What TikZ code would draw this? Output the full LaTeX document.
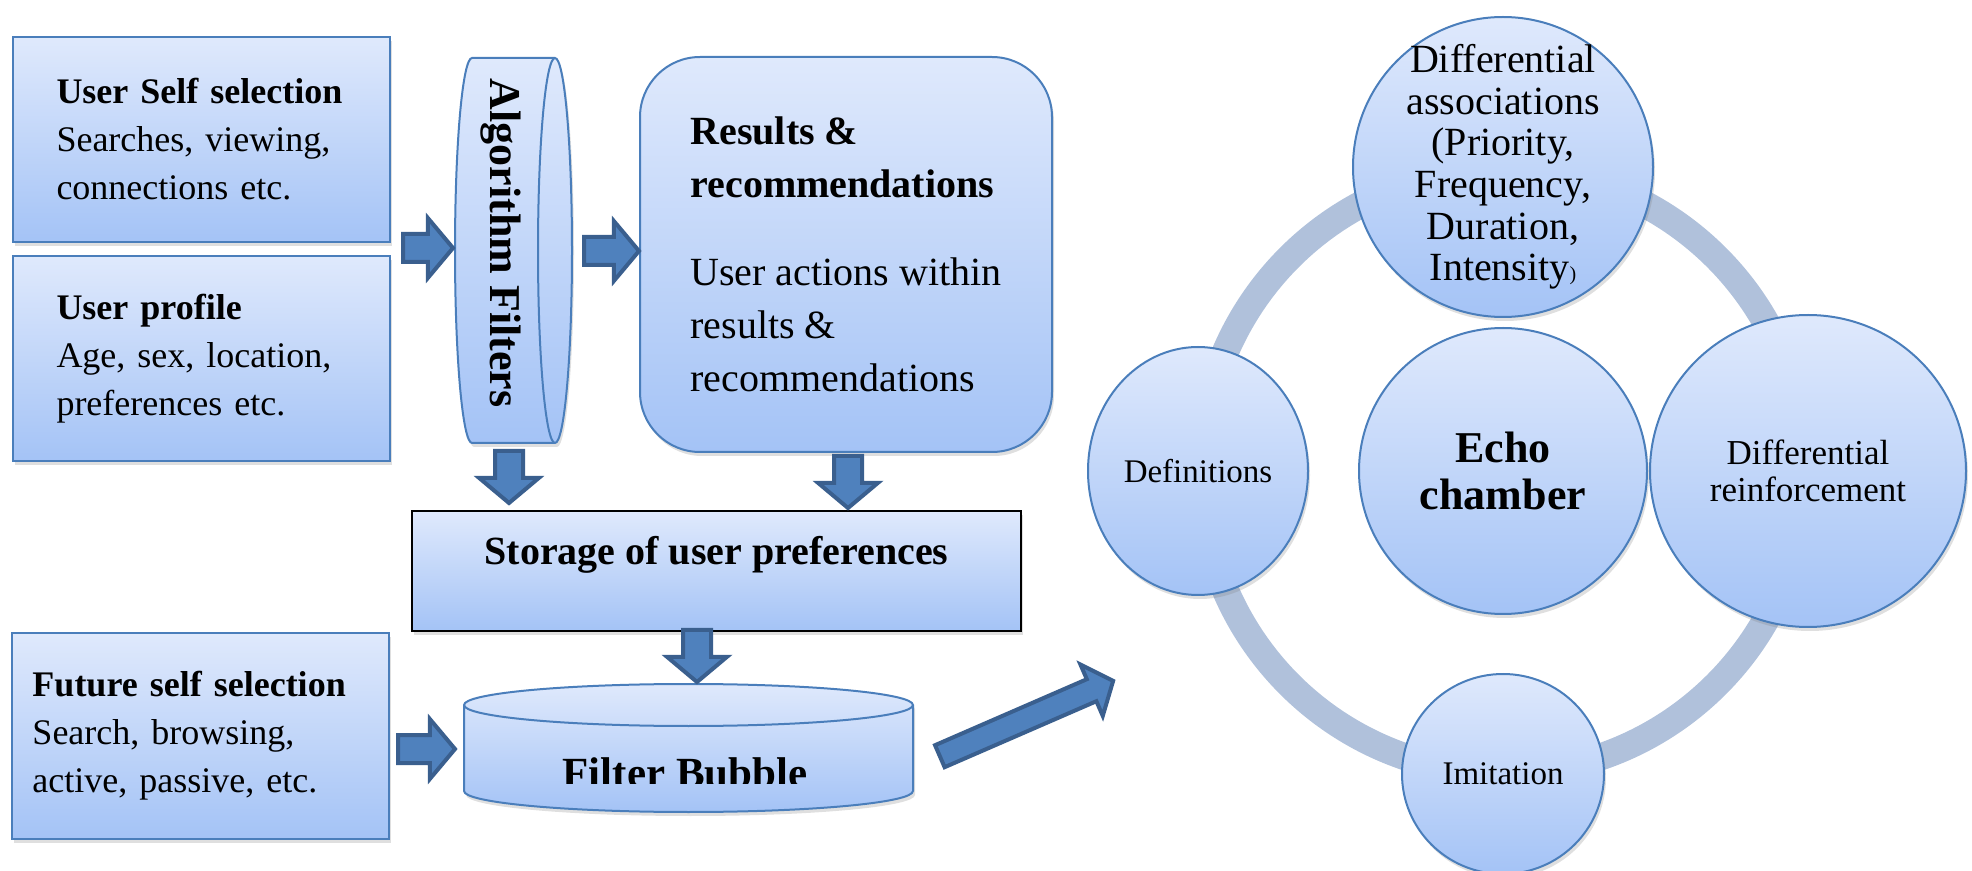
\documentclass[tikz,border=0pt]{standalone}
\usepackage{fontspec}
\setmainfont{Liberation Serif}
\usetikzlibrary{shapes.geometric,shapes.arrows,shadows}
\definecolor{edgeblue}{HTML}{4A7EBB}
\definecolor{filltop}{HTML}{DFE9FC}
\definecolor{fillbot}{HTML}{A4C3F6}
\definecolor{arrowfill}{HTML}{4F81BD}
\definecolor{arrowedge}{HTML}{3A5F8E}
\definecolor{ringgrey}{HTML}{B0C1DB}

\begin{document}
\begin{tikzpicture}[x=0.5pt,y=-0.5pt,
  panel/.style={draw=edgeblue,line width=1pt,top color=filltop,bottom color=fillbot,
    drop shadow={opacity=.25,shadow xshift=1pt,shadow yshift=-2pt}},
  infobox/.style={panel,rectangle,minimum width=188.5pt,minimum height=102.5pt,
    text width=145pt,inner xsep=21.75pt,align=left,font=\fontsize{18}{24}\selectfont},
  blob/.style={panel,ellipse,inner sep=0pt,align=center},
  blockarrow/.style={single arrow,draw=arrowedge,fill=arrowfill,line width=2pt,anchor=tail,
    inner sep=6pt,single arrow head extend=8pt,single arrow tip angle=100,minimum height=#1}]
  \useasboundingbox (0,0) rectangle (1972,871);
  \clip (0,0) rectangle (1972,871);

  % inputs and filtering
  \node[infobox] (selfsel) at (201.5,139.5)
    {\textbf{User Self selection}\\Searches, viewing,\\connections etc.};
  \node[infobox] (profile) at (201.5,358.5)
    {\textbf{User profile}\\Age, sex, location,\\preferences etc.};
  \node[infobox,inner xsep=10.5pt,text width=167.5pt] (future) at (200,736)
    {\textbf{Future self selection}\\Search, browsing,\\active, passive, etc.};

  \path[panel] (555,58) -- (472,58) arc[start angle=90,end angle=270,x radius=8.5pt,y radius=96.25pt]
    -- (555,443) arc[start angle=-90,end angle=90,x radius=8.5pt,y radius=96.25pt] -- cycle;
  \draw[edgeblue,line width=1pt] (555,58) arc[start angle=90,end angle=270,x radius=8.5pt,y radius=96.25pt];
  \node[rotate=-90,font=\fontsize{22}{22}\selectfont\bfseries] (algo) at (501,243) {Algorithm Filters};

  \node[panel,rectangle,rounded corners=30pt,minimum width=206pt,minimum height=197.5pt,
    align=left,font=\fontsize{20}{26.5}\selectfont] (results) at (846,254.5)
    {\textbf{Results \&}\\\textbf{recommendations}\\[17.5pt]User actions within\\results \&\\recommendations};
  \node[panel,draw=black,line width=1.2pt,rectangle,minimum width=304.5pt,inner ysep=0pt,
    text height=27pt,text depth=33pt,font=\fontsize{20}{24}\selectfont\bfseries] (store) at (716.5,571)
    {Storage of user preferences};

  \path[panel] (464,705) -- (464,791) arc[start angle=180,end angle=360,x radius=112.25pt,y radius=10.5pt]
    -- (913,705) arc[start angle=0,end angle=180,x radius=112.25pt,y radius=10.5pt] -- cycle;
  \draw[edgeblue,line width=1pt] (464,705) arc[start angle=180,end angle=360,x radius=112.25pt,y radius=10.5pt];
  \begin{scope}
    \clip (540,730) rectangle (840,783);
    \node[anchor=base,font=\fontsize{21.5}{21.5}\selectfont\bfseries] (bubble) at (685,787) {Filter Bubble};
  \end{scope}

  \node[blockarrow=25pt] (toalgo) at (401,248) {};
  \node[blockarrow=27.5pt] (toresults) at (582,251) {};
  \node[blockarrow=26pt,rotate=-90] (algostore) at (509,449) {};
  \node[blockarrow=26pt,rotate=-90] (resultsstore) at (848,454) {};
  \node[blockarrow=26pt,rotate=-90] (storebubble) at (697,628) {};
  \node[blockarrow=28.5pt] (futurebubble) at (396,749) {};
  \node[blockarrow=94.5pt,rotate=23.5,inner sep=5pt] (toecho) at (938,757) {};

  % echo chamber cycle
  \coordinate (hub) at (1503,471);
  \draw[ringgrey,line width=13.5pt] (hub) circle (151pt);
  \node[blob,inner sep=-12pt,minimum width=150pt,minimum height=150pt,font=\fontsize{20}{20.8}\selectfont] (assoc) at (1503,167)
    {Differential\\associations\\(Priority,\\Frequency,\\Duration,\\Intensity{\fontsize{10}{10}\selectfont)}};
  \node[blob,minimum width=144pt,minimum height=143pt,font=\fontsize{22}{23.5}\selectfont\bfseries] (echo) at (hub)
    {Echo\\chamber};
  \node[blob,minimum width=110pt,minimum height=124pt,font=\fontsize{16.5}{18}\selectfont] (defs) at (1198,471)
    {Definitions};
  \node[blob,minimum width=158pt,minimum height=156pt,font=\fontsize{17.5}{18.7}\selectfont] (reinf) at (1808,471)
    {Differential\\reinforcement};
  \node[blob,minimum width=101pt,minimum height=100pt,font=\fontsize{16.5}{18}\selectfont] (imit) at (1503,774)
    {Imitation};
\end{tikzpicture}
\end{document}
